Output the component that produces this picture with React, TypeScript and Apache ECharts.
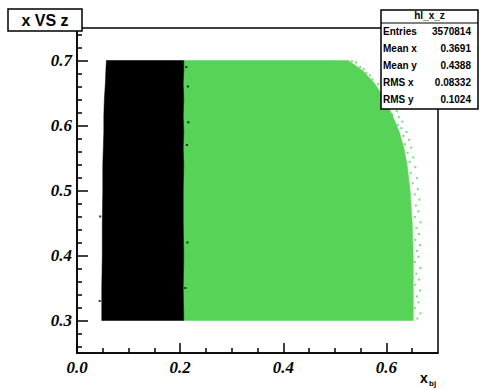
import React, { useEffect, useRef } from "react";
import * as echarts from "echarts";

// Region boundaries (y levels and x edges)
const yLevels = [0.3, 0.35, 0.4, 0.45, 0.5, 0.54, 0.565, 0.59, 0.615, 0.64, 0.665, 0.685, 0.7];
const blackLeft = [0.048, 0.048, 0.049, 0.049, 0.05, 0.05, 0.051, 0.052, 0.052, 0.053, 0.055, 0.056, 0.057];
const boundaryX = [0.207, 0.206, 0.207, 0.206, 0.206, 0.207, 0.206, 0.207, 0.206, 0.207, 0.206, 0.207, 0.207];
const greenRight = [0.652, 0.652, 0.652, 0.65, 0.646, 0.64, 0.634, 0.625, 0.612, 0.597, 0.577, 0.553, 0.526];

// Sparse green points along the ragged right edge
const greenSpecks: [number, number][] = [
  [0.533, 0.699], [0.541, 0.697], [0.538, 0.692], [0.549, 0.69], [0.556, 0.687], [0.561, 0.681],
  [0.553, 0.683], [0.568, 0.677], [0.573, 0.671], [0.566, 0.668], [0.584, 0.664], [0.579, 0.657],
  [0.592, 0.655], [0.598, 0.647], [0.591, 0.643], [0.607, 0.64], [0.603, 0.633], [0.613, 0.628],
  [0.62, 0.622], [0.612, 0.617], [0.624, 0.613], [0.631, 0.606], [0.622, 0.601], [0.629, 0.596],
  [0.639, 0.59], [0.633, 0.584], [0.644, 0.578], [0.636, 0.571], [0.648, 0.566], [0.641, 0.558],
  [0.652, 0.551], [0.645, 0.544], [0.656, 0.536], [0.647, 0.527], [0.659, 0.519], [0.651, 0.511],
  [0.661, 0.502], [0.655, 0.494], [0.664, 0.486], [0.657, 0.477], [0.662, 0.468], [0.655, 0.459],
  [0.666, 0.451], [0.658, 0.442], [0.663, 0.433], [0.656, 0.424], [0.665, 0.416], [0.659, 0.407],
  [0.662, 0.398], [0.655, 0.39], [0.666, 0.381], [0.658, 0.372], [0.663, 0.363], [0.656, 0.355],
  [0.665, 0.346], [0.659, 0.337], [0.662, 0.328], [0.655, 0.319], [0.666, 0.311], [0.66, 0.303],
];
// Sparse black points along the black/green boundary and the left edge
const blackSpecks: [number, number][] = [
  [0.212, 0.69], [0.215, 0.66], [0.213, 0.57], [0.214, 0.42], [0.21, 0.35], [0.216, 0.605],
  [0.045, 0.46], [0.044, 0.33],
];

const yMajor = [0.3, 0.4, 0.5, 0.6, 0.7];
const yMinor = [0.26, 0.28, 0.32, 0.34, 0.36, 0.38, 0.42, 0.44, 0.46, 0.48, 0.52, 0.54, 0.56, 0.58, 0.62, 0.64, 0.66, 0.68, 0.72, 0.74];
const xMajor = [0.0, 0.2, 0.4, 0.6];
const xMinor = [0.05, 0.1, 0.15, 0.25, 0.3, 0.35, 0.45, 0.5, 0.55, 0.65];

const statLabels = ["Entries", "Mean x", "Mean y", "RMS x", "RMS y"];
const statValues = ["3570814", "0.3691", "0.4388", "0.08332", "0.1024"];

const GREEN = "#57d357";

function polygonSeries(pts: [number, number][], color: string) {
  return {
    type: "custom",
    xAxisIndex: 0,
    yAxisIndex: 0,
    silent: true,
    data: pts,
    renderItem: (params: any, api: any) => {
      if (params.dataIndex !== 0) return null;
      return {
        type: "polygon",
        shape: { points: pts.map((p) => api.coord(p)) },
        style: { fill: color, stroke: color, lineWidth: 0.5 },
      };
    },
  };
}

export default function App() {
  const ref = useRef<HTMLDivElement>(null);
  useEffect(() => {
    if (!ref.current) return;
    const chart = echarts.init(ref.current, null, { renderer: "svg" });
    const n = yLevels.length;
    const blackPoly: [number, number][] = [];
    const greenPoly: [number, number][] = [];
    for (let i = 0; i < n; i++) blackPoly.push([blackLeft[i], yLevels[i]]);
    for (let i = n - 1; i >= 0; i--) blackPoly.push([boundaryX[i], yLevels[i]]);
    for (let i = 0; i < n; i++) greenPoly.push([boundaryX[i], yLevels[i]]);
    for (let i = n - 1; i >= 0; i--) greenPoly.push([greenRight[i], yLevels[i]]);

    const labelFont = {
      fontFamily: "Liberation Serif",
      fontStyle: "italic",
      fontWeight: "bold",
      fontSize: 17,
      color: "#000",
    };
    const axisLine = { show: true, lineStyle: { color: "#000", width: 1.5 } };

    const statTexts: any[] = [];
    statLabels.forEach((l, i) => {
      const y = 31.5 + i * 17.1;
      statTexts.push({
        type: "text",
        x: 383,
        y,
        style: { text: l, fontFamily: "Liberation Sans", fontWeight: "bold", fontSize: 10, fill: "#000", align: "left", verticalAlign: "middle" },
      });
      statTexts.push({
        type: "text",
        x: 471,
        y,
        style: { text: statValues[i], fontFamily: "Liberation Sans", fontWeight: "bold", fontSize: 10, fill: "#000", align: "right", verticalAlign: "middle" },
      });
    });

    chart.setOption({
      animation: false,
      backgroundColor: "#fff",
      grid: {
        left: 77,
        top: 28,
        width: 361,
        height: 325,
        show: true,
        borderColor: "#000",
        borderWidth: 1.5,
        backgroundColor: "transparent",
      },
      xAxis: [
        {
          type: "value",
          min: 0,
          max: 0.7,
          position: "bottom",
          axisLine,
          splitLine: { show: false },
          axisTick: { show: true, inside: true, length: 10, customValues: xMajor, lineStyle: { color: "#000", width: 1.5 } },
          axisLabel: { ...labelFont, margin: 6, customValues: xMajor, formatter: (v: number) => v.toFixed(1) },
        },
        {
          type: "value",
          min: 0,
          max: 0.7,
          position: "bottom",
          axisLine: { show: false },
          splitLine: { show: false },
          axisTick: { show: true, inside: true, length: 5, customValues: xMinor, lineStyle: { color: "#000", width: 1.5 } },
          axisLabel: { show: false },
        },
      ],
      yAxis: [
        {
          type: "value",
          min: 0.25,
          max: 0.75,
          position: "left",
          axisLine,
          splitLine: { show: false },
          axisTick: { show: true, inside: true, length: 11, customValues: yMajor, lineStyle: { color: "#000", width: 1.5 } },
          axisLabel: { ...labelFont, margin: 5, customValues: yMajor, formatter: (v: number) => v.toFixed(1) },
        },
        {
          type: "value",
          min: 0.25,
          max: 0.75,
          position: "left",
          offset: 0,
          axisLine: { show: false },
          splitLine: { show: false },
          axisTick: { show: true, inside: true, length: 5, customValues: yMinor, lineStyle: { color: "#000", width: 1.5 } },
          axisLabel: { show: false },
        },
      ],
      series: [
        polygonSeries(greenPoly, GREEN),
        polygonSeries(blackPoly, "#000"),
        {
          type: "scatter",
          xAxisIndex: 0,
          yAxisIndex: 0,
          symbol: "rect",
          symbolSize: 2,
          silent: true,
          itemStyle: { color: GREEN },
          data: greenSpecks,
        },
        {
          type: "scatter",
          xAxisIndex: 0,
          yAxisIndex: 0,
          symbol: "rect",
          symbolSize: 2,
          silent: true,
          itemStyle: { color: "#000" },
          data: blackSpecks,
        },
      ],
      graphic: [
        {
          type: "rect",
          shape: { x: 8, y: 9, width: 74, height: 22 },
          style: { fill: "#fff", stroke: "#000", lineWidth: 1.5 },
          z: 100,
        },
        {
          type: "text",
          x: 45,
          y: 20.5,
          z: 101,
          style: { text: "x VS z", fontFamily: "Liberation Sans", fontWeight: "bold", fontSize: 16, fill: "#000", align: "center", verticalAlign: "middle" },
        },
        {
          type: "rect",
          shape: { x: 381, y: 10, width: 97, height: 99 },
          style: { fill: "#fff", stroke: "#000", lineWidth: 1.5 },
          z: 100,
        },
        {
          type: "line",
          shape: { x1: 381, y1: 23, x2: 478, y2: 23 },
          style: { stroke: "#000", lineWidth: 1.2 },
          z: 101,
        },
        {
          type: "text",
          x: 429.5,
          y: 15.5,
          z: 101,
          style: { text: "hl_x_z", fontFamily: "Liberation Sans", fontWeight: "bold", fontSize: 10, fill: "#000", align: "center", verticalAlign: "middle" },
        },
        ...statTexts.map((t) => ({ ...t, z: 101 })),
        {
          type: "text",
          x: 420,
          y: 378,
          z: 101,
          style: { text: "x", fontFamily: "Liberation Sans", fontWeight: "bold", fontSize: 14, fill: "#000", align: "left", verticalAlign: "middle" },
        },
        {
          type: "text",
          x: 429,
          y: 383,
          z: 101,
          style: { text: "bj", fontFamily: "Liberation Sans", fontWeight: "bold", fontSize: 8, fill: "#000", align: "left", verticalAlign: "middle" },
        },
      ],
    });
    return () => chart.dispose();
  }, []);
  return (
    <div
      ref={ref}
      style={{ position: "absolute", left: 0, top: 0, width: 487, height: 390 }}
    />
  );
}
